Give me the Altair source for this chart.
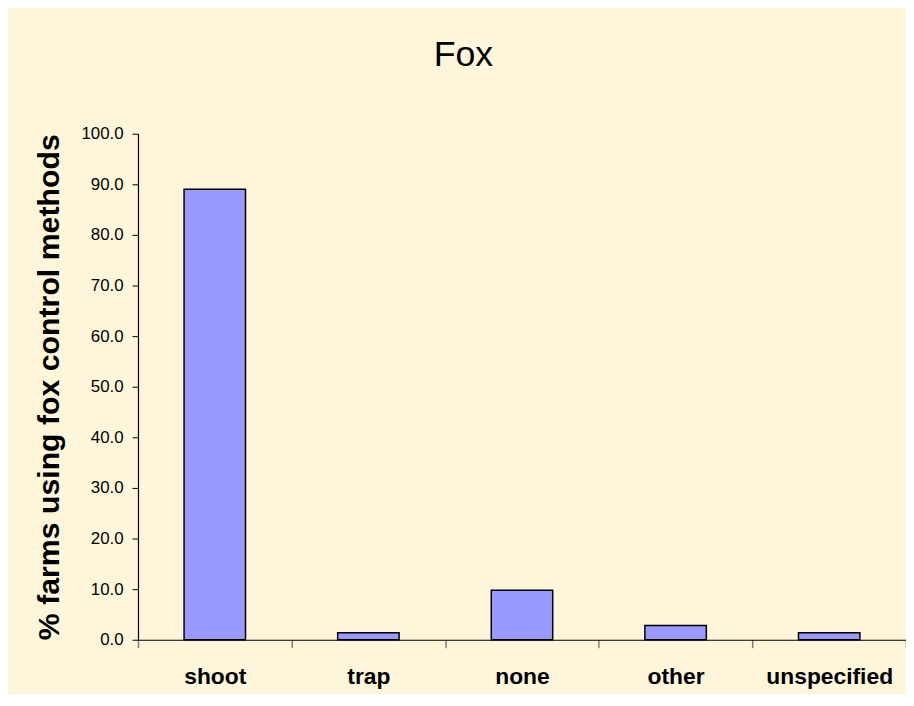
import altair as alt
import pandas as pd

categories = ["shoot", "trap", "none", "other", "unspecified"]
values = [89.0, 1.4, 9.8, 2.8, 1.4]
y_ticks = [0, 10, 20, 30, 40, 50, 60, 70, 80, 90, 100]

df = pd.DataFrame({"method": categories, "pct": values})

FONT = "Liberation Sans"

chart = alt.Chart(df).mark_bar(
    color="#9999FF",
    stroke="#000000",
    strokeWidth=1.5,
    width=alt.RelativeBandSize(0.4),
).encode(
    x=alt.X(
        "method:N",
        sort=categories,
        scale=alt.Scale(paddingInner=0, paddingOuter=0),
        axis=alt.Axis(
            title=None,
            labelAngle=0,
            tickBand="extent",
            labelFont=FONT,
            labelFontSize=23,
            labelFontWeight="bold",
            labelColor="#000000",
            labelPadding=18,
            tickSize=8,
            tickColor="#808080",
            tickWidth=1.5,
            domainColor="#000000",
            domainWidth=1.2,
        ),
    ),
    y=alt.Y(
        "pct:Q",
        scale=alt.Scale(domain=[0, 100], nice=False),
        axis=alt.Axis(
            values=y_ticks,
            format=".1f",
            title="% farms using fox control methods",
            titleFont=FONT,
            titleFontSize=30.5,
            titleFontWeight="bold",
            titleColor="#000000",
            titlePadding=17,
            labelFont=FONT,
            labelFontSize=17,
            labelColor="#000000",
            labelPadding=9,
            tickSize=6,
            tickColor="#000000",
            domainColor="#000000",
            domainWidth=1.2,
            grid=False,
        ),
    ),
).properties(
    width=774,
    height=510,
    background="#FEF6DA",
    padding={"left": 131, "top": 124, "right": 0, "bottom": 52},
    autosize=alt.AutoSizeParams(type="none"),
    title=alt.TitleParams(
        "Fox",
        font=FONT,
        fontSize=36,
        fontWeight="normal",
        color="#000000",
        anchor="middle",
        dx=-59,
        baseline="alphabetic",
        offset=23,
    ),
).configure_view(stroke=None)

chart.save("out.html", embed_options={"renderer": "svg", "actions": False})
